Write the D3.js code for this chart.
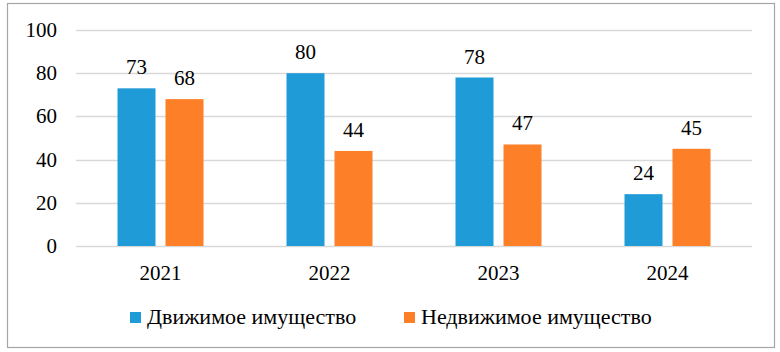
<!DOCTYPE html>
<html>
<head>
<meta charset="utf-8">
<script src="https://cdn.jsdelivr.net/npm/d3@7"></script>
<style>
  body { margin: 0; background: #fff; }
  text { font-family: 'Liberation Serif', 'Times New Roman', Times, 'DejaVu Serif', serif; }
</style>
</head>
<body>
<div id="chart"></div>
<script>
var years = ["2021", "2022", "2023", "2024"];
var seriesNames = ["Движимое имущество", "Недвижимое имущество"];
var movable = [73, 80, 78, 24];
var immovable = [68, 44, 47, 45];
var yTicks = [0, 20, 40, 60, 80, 100];
var colors = ["#1f9bd7", "#fd7f28"];
var fontFamily = "'Liberation Serif', 'Times New Roman', Times, 'DejaVu Serif', serif";

var width = 780, height = 352;
var svg = d3.select("#chart").append("svg")
    .attr("width", width)
    .attr("height", height)
    .style("display", "block");

// frame
svg.append("rect")
    .attr("x", 7.5).attr("y", 3.5)
    .attr("width", 767).attr("height", 344)
    .attr("fill", "#fff")
    .attr("stroke", "#a6a6a6")
    .attr("stroke-width", 1.2);

var x = d3.scaleBand().domain(years).range([76, 752]);
var y = d3.scaleLinear().domain([0, 100]).range([246, 30]);
var barW = 38, gap = 10;

// grid
svg.selectAll(".grid")
    .data(yTicks)
    .enter().append("line")
    .attr("x1", 76).attr("x2", 752)
    .attr("y1", function(d){ return Math.round(y(d)) + 0.5; })
    .attr("y2", function(d){ return Math.round(y(d)) + 0.5; })
    .attr("stroke", "#d9d9d9")
    .attr("stroke-width", 1.3);

// y tick labels
svg.selectAll(".ytick")
    .data(yTicks)
    .enter().append("text")
    .attr("x", 57)
    .attr("y", function(d){ return y(d) + 7; })
    .attr("text-anchor", "end")
    .attr("font-family", fontFamily)
    .attr("font-size", "21px")
    .attr("fill", "#000")
    .text(function(d){ return d; });

var series = [movable, immovable];
series.forEach(function(vals, s){
    var offset = s === 0 ? -(gap / 2 + barW) : gap / 2;
    var g = svg.append("g");
    g.selectAll("rect")
        .data(vals)
        .enter().append("rect")
        .attr("x", function(d, i){ return x(years[i]) + x.bandwidth() / 2 + offset; })
        .attr("y", function(d){ return y(d); })
        .attr("width", barW)
        .attr("height", function(d){ return y(0) - y(d); })
        .attr("fill", colors[s]);
    g.selectAll("text")
        .data(vals)
        .enter().append("text")
        .attr("x", function(d, i){ return x(years[i]) + x.bandwidth() / 2 + offset + barW / 2; })
        .attr("y", function(d){ return y(d) - 14; })
        .attr("text-anchor", "middle")
        .attr("font-family", fontFamily)
        .attr("font-size", "21px")
        .attr("fill", "#000")
        .text(function(d){ return d; });
});

// x labels
svg.selectAll(".xlab")
    .data(years)
    .enter().append("text")
    .attr("x", function(d){ return x(d) + x.bandwidth() / 2; })
    .attr("y", 280)
    .attr("text-anchor", "middle")
    .attr("font-family", fontFamily)
    .attr("font-size", "21px")
    .attr("fill", "#000")
    .text(function(d){ return d; });

// legend
var legendX = [130, 404];
var legend = svg.selectAll(".legend")
    .data(seriesNames)
    .enter().append("g")
    .attr("transform", function(d, i){ return "translate(" + legendX[i] + ",312)"; });
legend.append("rect")
    .attr("width", 11).attr("height", 11)
    .attr("fill", function(d, i){ return colors[i]; });
legend.append("text")
    .attr("x", 17).attr("y", 12)
    .attr("font-family", fontFamily)
    .attr("font-size", "22px")
    .attr("fill", "#000")
    .text(function(d){ return d; });
</script>
</body>
</html>
